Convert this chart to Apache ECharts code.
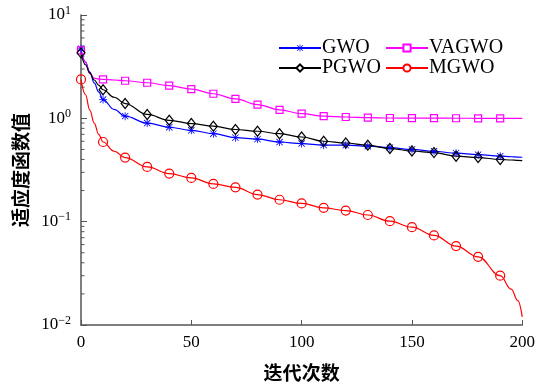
<!DOCTYPE html>
<html>
<head>
<meta charset="utf-8">
<script src="https://cdn.jsdelivr.net/npm/echarts@6/dist/echarts.min.js"></script>
<style>
  html, body { margin: 0; padding: 0; background: #fff; }
  #main { width: 538px; height: 389px; }
</style>
</head>
<body>
<div id="main"></div>
<script>
// iterations where values were read (markers only on multiples of 10 below 200)
var iters = [0, 2, 4, 6, 8, 10, 15, 20, 30, 40, 50, 60, 70, 80, 90, 100,
             110, 120, 130, 140, 150, 160, 170, 180, 190, 195, 198, 200];

var gwo   = [4.71, 3.5, 2.8, 2.2, 1.8, 1.52, 1.22, 1.05, 0.90, 0.82, 0.766, 0.71, 0.65, 0.63, 0.59, 0.57,
             0.55, 0.55, 0.537, 0.52, 0.50, 0.48, 0.46, 0.445, 0.43, 0.425, 0.422, 0.42];
var vagwo = [4.54, 3.5, 2.7, 2.45, 2.4, 2.38, 2.35, 2.31, 2.21, 2.07, 1.92, 1.73, 1.54, 1.36, 1.21, 1.11,
             1.05, 1.03, 1.015, 1.007, 1.005, 1.003, 1.002, 1.001, 1.0, 1.0, 1.0, 1.0];
var pgwo  = [4.3, 3.3, 2.75, 2.35, 2.1, 1.89, 1.6, 1.39, 1.09, 0.957, 0.89, 0.84, 0.78, 0.75, 0.71, 0.66,
             0.60, 0.577, 0.55, 0.51, 0.483, 0.466, 0.43, 0.417, 0.40, 0.395, 0.392, 0.39];
var mgwo  = [2.38, 1.7, 1.2, 0.9, 0.7, 0.59, 0.48, 0.417, 0.339, 0.292, 0.265, 0.232, 0.215, 0.183, 0.163, 0.15,
             0.136, 0.128, 0.116, 0.101, 0.0885, 0.0736, 0.058, 0.0457, 0.030, 0.0222, 0.0172, 0.012];

var xTicks = [0, 50, 100, 150, 200];
var minorTicks = [];
[0.01, 0.1, 1].forEach(function (d) {
  for (var k = 2; k <= 9; k++) minorTicks.push(d * k);
});

var serif = 'Liberation Serif, Times New Roman, serif';
var cjk = 'Noto Sans CJK SC';
var axisColor = '#555';
var clear = 'rgba(255,255,255,0)';

var starPath = 'path://M9,0L11,0L11,20L9,20ZM0,9L20,9L20,11L0,11Z' +
  'M1.4,2.8L2.8,1.4L18.6,17.2L17.2,18.6ZM17.2,1.4L18.6,2.8L2.8,18.6L1.4,17.2Z';

// series symbol is what the legend shows, markSymbol is drawn on the curve
function pts(vals, markSymbol, color, filled) {
  return iters.map(function (x, i) {
    var item = { value: [x, vals[i]] };
    if (x % 10 !== 0 || x >= 200) {
      item.symbol = 'none';
    } else {
      item.symbol = markSymbol;
      if (!filled) item.itemStyle = { color: clear, borderColor: color, borderWidth: 1.2 };
    }
    return item;
  });
}

function lineSeries(name, vals, color, legendSymbol, markSymbol, size, filled) {
  return {
    name: name,
    type: 'line',
    data: pts(vals, markSymbol, color, filled),
    smooth: 0.4,
    smoothMonotone: 'x',
    symbol: legendSymbol,
    symbolSize: size,
    showAllSymbol: true,
    lineStyle: { color: color, width: 1.2 },
    itemStyle: { color: color },
    emphasis: { disabled: true },
    z: 3
  };
}

var legendText = { fontFamily: serif, fontSize: 20, color: '#000', padding: [0, 0, 0, -4] };

var chart = echarts.init(document.getElementById('main'));
chart.setOption({
  animation: false,
  grid: { left: 81, right: 15, top: 15, bottom: 64 },
  legend: [
    {
      data: ['GWO', 'PGWO'],
      orient: 'vertical',
      left: 273, top: 33,
      itemWidth: 42, itemHeight: 9, itemGap: 0,
      textStyle: legendText
    },
    {
      data: ['VAGWO', 'MGWO'],
      orient: 'vertical',
      left: 380, top: 33,
      itemWidth: 42, itemHeight: 9, itemGap: 0,
      textStyle: legendText
    }
  ],
  xAxis: {
    type: 'value',
    min: 0, max: 200, interval: 50,
    name: '迭代次数',
    nameLocation: 'middle',
    nameGap: 38,
    nameTextStyle: { fontFamily: cjk, fontWeight: 'bold', fontSize: 19, color: '#000' },
    axisLine: { lineStyle: { color: axisColor, width: 1.5 } },
    axisTick: { inside: true, length: 5, lineStyle: { color: axisColor } },
    axisLabel: {
      fontFamily: serif, fontSize: 17, color: '#000', margin: 9,
      formatter: function (v) { return xTicks.indexOf(v) >= 0 ? String(v) : ''; }
    },
    splitLine: { show: false }
  },
  yAxis: {
    type: 'log',
    logBase: 10,
    min: 0.01, max: 10,
    name: '适应度函数值',
    nameLocation: 'middle',
    nameGap: 42,
    nameTextStyle: { fontFamily: cjk, fontWeight: 'bold', fontSize: 19, color: '#000' },
    axisLine: { show: true, lineStyle: { color: axisColor, width: 1.5 } },
    axisTick: { inside: true, length: 6, lineStyle: { color: axisColor } },
    axisLabel: {
      margin: 10,
      formatter: function (v) {
        var e = Math.round(Math.log10(v));
        return '{b|10}{e|' + (e < 0 ? '\u2212' + (-e) : e) + '}';
      },
      rich: {
        b: { fontFamily: serif, fontSize: 17, color: '#000' },
        e: { fontFamily: serif, fontSize: 12, color: '#000', verticalAlign: 'top', padding: [0, 0, 9, 0] }
      }
    },
    splitLine: { show: false }
  },
  series: [
    lineSeries('GWO', gwo, '#0000ff', starPath, starPath, 8, true),
    lineSeries('VAGWO', vagwo, '#ff00ff', 'emptyRect', 'rect', 7, false),
    lineSeries('PGWO', pgwo, '#000000', 'emptyDiamond', 'diamond', [8, 10], false),
    lineSeries('MGWO', mgwo, '#ff0000', 'emptyCircle', 'circle', 9, false),
    {
      name: 'minor',
      type: 'custom',
      silent: true,
      clip: false,
      data: minorTicks.map(function (v) { return [0, v]; }),
      renderItem: function (params, api) {
        var p = api.coord([api.value(0), api.value(1)]);
        return {
          type: 'line',
          shape: { x1: p[0], y1: p[1], x2: p[0] + 3.5, y2: p[1] },
          style: { stroke: axisColor, lineWidth: 1 }
        };
      },
      z: 2
    }
  ]
});
</script>
</body>
</html>
